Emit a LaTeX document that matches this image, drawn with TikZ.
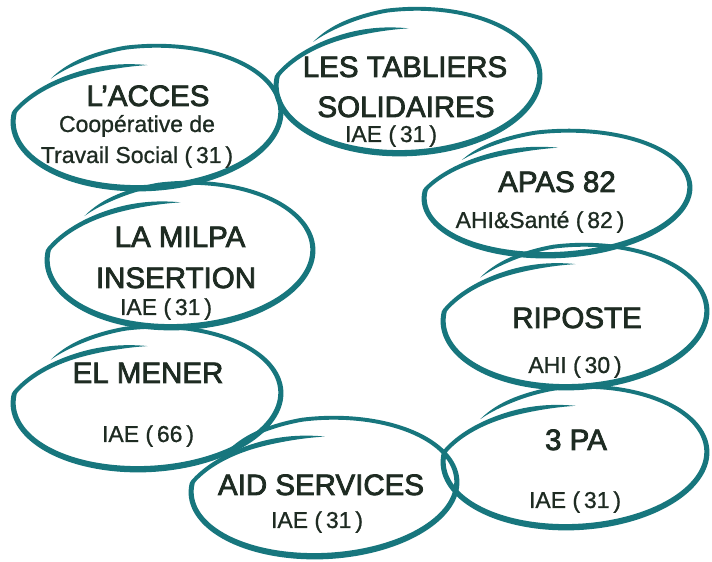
\documentclass[tikz,border=0pt]{standalone}
\usepackage{fontspec}
\setmainfont{Liberation Sans}
\newfontfamily\ttlfont{Liberation Sans}[FakeBold=2.6]
\newfontfamily\subfont{Liberation Sans}[FakeBold=0.9]
\definecolor{ringteal}{HTML}{17767D}
\definecolor{inkdark}{HTML}{1E2B22}
\tikzset{
  declare function={
    bang(\t)=139-411*\t;
    bfr(\t)=max(0,(\t-0.80)/0.20);
    bs(\t)=1-0.27*bfr(\t)*(1.6-0.6*bfr(\t))-0.07*(1-min(1,\t/0.1));
    bw(\t)=6*sin(90*min(1,\t/0.06))*sin(90*min(1,(1-\t)/0.09))*(0.85-0.2*sin(bang(\t))+0.4*bfr(\t));
  },
  ttl/.style={font=\ttlfont\fontsize{29.5}{36}\selectfont, text=inkdark, anchor=base, inner sep=0pt},
  sub/.style={font=\subfont\fontsize{23}{28}\selectfont, text=inkdark, anchor=base, inner sep=0pt},
}
\newcommand\brushring[5]{%
  \begin{scope}[shift={(#1,#2)}, rotate=#5]
    \fill[ringteal]
      plot[domain=0:1, samples=200, variable=\u]
        ({(#3*bs(\u)+bw(\u)/2)*cos(bang(\u))}, {(#4*bs(\u)+bw(\u)/2)*sin(bang(\u))})
      -- plot[domain=1:0, samples=200, variable=\u]
        ({(#3*bs(\u)-bw(\u)/2)*cos(bang(\u))}, {(#4*bs(\u)-bw(\u)/2)*sin(bang(\u))})
      -- cycle;
  \end{scope}}
\begin{document}
\begin{tikzpicture}[x=1pt, y=1pt]
  \fill[white] (0,0) rectangle (712,562);
  \useasboundingbox (0,0) rectangle (712,562);
  % rings
  \brushring{147}{445}{134}{71}{3}
  \brushring{408}{481}{132}{72}{3}
  \brushring{557}{369}{133}{62}{3}
  \brushring{180}{307}{133}{72}{3}
  \brushring{575}{246}{132}{71}{3}
  \brushring{147}{164}{134}{71}{3}
  \brushring{324}{75}{133}{69}{3}
  \brushring{575}{105}{132}{70}{3}
  % texts
  \node[ttl] (acces) at (148,456) {L’ACCES};
  \node[sub] (accesa) at (137,430) {Coopérative de};
  \node[sub] (accesb) at (137,399) {Travail Social (\,31\,)};
  \node[ttl] (tabla) at (405,485) {LES TABLIERS};
  \node[ttl] (tablb) at (406,445) {SOLIDAIRES};
  \node[sub] (tablc) at (391,420) {IAE (\,31\,)};
  \node[ttl] (apas) at (557,370) {APAS 82};
  \node[sub] (apasb) at (540,334) {AHI\&Santé (\,82\,)};
  \node[ttl] (milpa) at (180,315) {LA MILPA};
  \node[ttl] (milpab) at (176,274) {INSERTION};
  \node[sub] (milpac) at (166,247) {IAE (\,31\,)};
  \node[ttl] (ripo) at (577,234) {RIPOSTE};
  \node[sub] (ripob) at (575,189) {AHI (\,30\,)};
  \node[ttl] (mener) at (148,179) {EL MENER};
  \node[sub] (menerb) at (148,120) {IAE (\,66\,)};
  \node[ttl] (aid) at (321,67) {AID SERVICES};
  \node[sub] (aidb) at (317,34) {IAE (\,31\,)};
  \node[ttl] (tpa) at (576,112) {3 PA};
  \node[sub] (tpab) at (575,54) {IAE (\,31\,)};
\end{tikzpicture}
\end{document}
